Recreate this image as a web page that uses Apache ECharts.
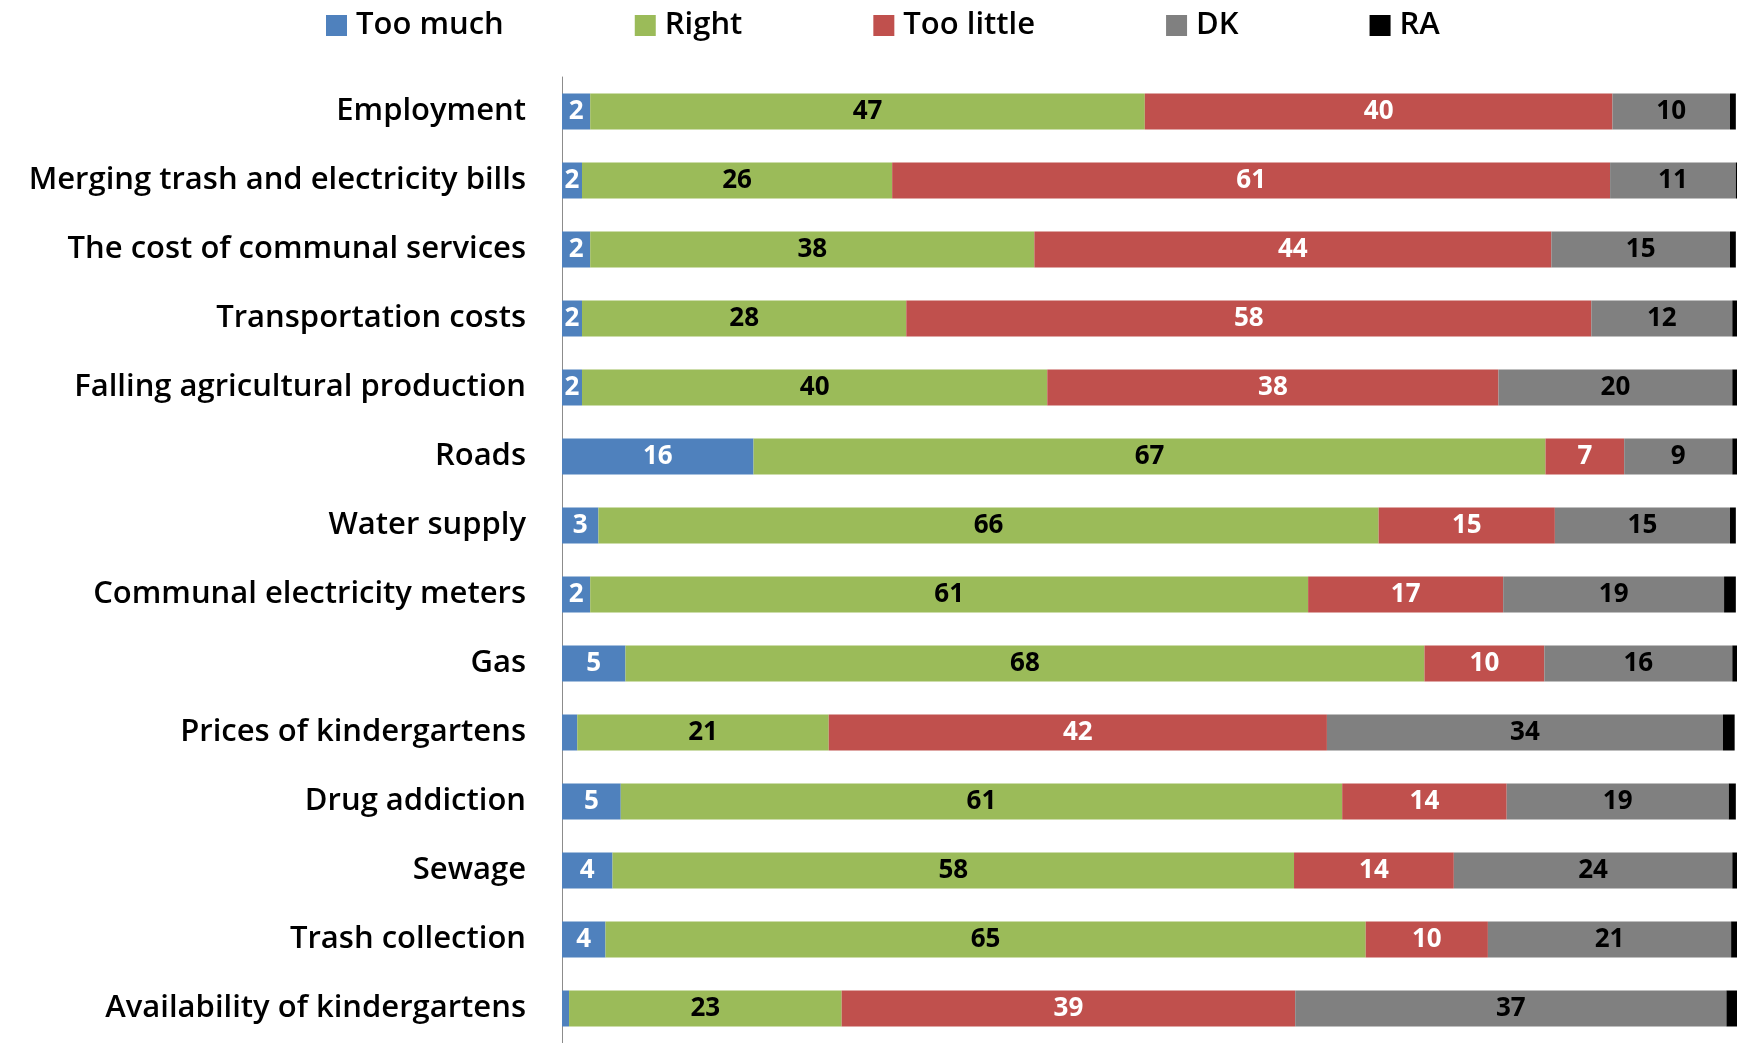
<!DOCTYPE html>
<html>
<head>
<meta charset="utf-8">
<script src="https://cdn.jsdelivr.net/npm/echarts@6/dist/echarts.min.js"></script>
<style>html,body{margin:0;padding:0;background:#fff}#chart{width:1750px;height:1043px}</style>
</head>
<body>
<div id="chart"></div>
<script>
const categories = ["Employment","Merging trash and electricity bills","The cost of communal services","Transportation costs","Falling agricultural production","Roads","Water supply","Communal electricity meters","Gas","Prices of kindergartens","Drug addiction","Sewage","Trash collection","Availability of kindergartens"];
const seriesNames = ["Too much","Right","Too little","DK","RA"];
const tooMuch  = [2.4, 1.7, 2.4, 1.7, 1.7, 16.3, 3.1, 2.4, 5.4, 1.3, 5.0, 4.3, 3.7, 0.6];
const right    = [47.2, 26.4, 37.8, 27.6, 39.6, 67.4, 66.4, 61.1, 68.0, 21.4, 61.4, 58.0, 64.7, 23.2];
const tooLittle= [39.8, 61.1, 44.0, 58.3, 38.4, 6.7, 15.0, 16.6, 10.2, 42.4, 14.0, 13.6, 10.4, 38.6];
const dk       = [10.0, 10.7, 15.2, 12.0, 19.9, 9.2, 14.9, 18.8, 16.0, 33.7, 18.9, 23.7, 20.7, 36.7];
const ra       = [0.5, 0.1, 0.5, 0.5, 0.6, 0.5, 0.5, 1.0, 0.5, 1.0, 0.6, 0.5, 0.5, 1.0];

const colors = ["#4F81BD","#9BBB59","#C0504D","#808080","#000000"];
const labelColors = ["#ffffff","#000000","#ffffff","#000000","#000000"];
const values = [tooMuch, right, tooLittle, dk, ra];
const FONT = "Open Sans";

const chart = echarts.init(document.getElementById('chart'), null, {renderer:'canvas'});
chart.setOption({
  animation: false,
  textStyle: {fontFamily: FONT},
  color: colors,
  legend: {
    data: seriesNames,
    left: 321, top: 5,
    itemWidth: 21, itemHeight: 21, itemGap: 131,
    icon: 'rect',
    textStyle: {fontFamily: FONT, fontWeight: 600, fontSize: 31, color: '#000', padding: [0,0,0,4]}
  },
  grid: {left: 562, right: 13, top: 77, bottom: -7, containLabel: false},
  xAxis: {type: 'value', min: 0, max: 100, show: false},
  yAxis: {
    type: 'category', data: categories, inverse: true,
    axisLine: {show: true, lineStyle: {color: '#8c8c8c', width: 1}},
    axisTick: {show: false},
    axisLabel: {fontFamily: FONT, fontWeight: 600, fontSize: 31, color: '#000', margin: 36, padding: [6,0,0,0]}
  },
  series: seriesNames.map((n, i) => ({
    name: n, type: 'bar', stack: 'total', barWidth: 36,
    data: values[i],
    itemStyle: {color: colors[i]},
    label: {
      show: i < 4, position: 'inside',
      color: labelColors[i], fontFamily: FONT, fontWeight: 700, fontSize: 26,
      padding: [4,0,0,0],
      formatter: p => p.value < 1.5 ? '' : String(Math.round(p.value))
    }
  }))
});
</script>
</body>
</html>
